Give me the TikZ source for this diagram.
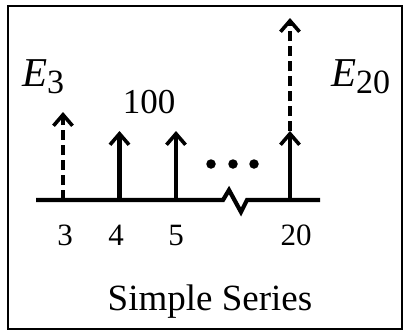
\documentclass[tikz,border=0pt]{standalone}
\usepackage{fontspec}
\setmainfont{Liberation Serif}
\usetikzlibrary{arrows.meta}
\begin{document}
\begin{tikzpicture}[x=1pt,y=-1pt,
  stem/.style={line width=4.2pt,-{Straight Barb[length=11pt,width=19pt,line width=3.6pt]}},
  dstem/.style={stem,dash pattern=on 10pt off 5pt},
  axis/.style={line width=4.2pt},
  lbl/.style={anchor=base,inner sep=0pt,font=\fontsize{31}{33}\selectfont},
  elbl/.style={anchor=base west,inner sep=0pt,font=\fontsize{41}{43}\selectfont},
  sub/.style={font=\fontsize{34}{36}\selectfont},
  dot/.style={circle,fill=black,inner sep=0pt,minimum size=9.5pt}]
\useasboundingbox (0,0) rectangle (404,330);
\draw[line width=2pt] (8,6) rectangle (402,328.5);
% axis
\coordinate (ax0) at (36,200);
\coordinate (ax1) at (320,200);
\coordinate (b0) at (223,200);
\coordinate (b1) at (229,190);
\coordinate (b2) at (241,212);
\coordinate (b3) at (247,200);
\draw[axis] (ax0) -- (b0) -- (b1) -- (b2) -- (b3) -- (ax1);
% stems
\coordinate (a3) at (63,200);   \coordinate (t3) at (63,112);
\coordinate (a4) at (119.5,200); \coordinate (t4) at (119.5,131);
\coordinate (a5) at (176,200);  \coordinate (t5) at (176,131);
\coordinate (a20) at (290,200); \coordinate (t20) at (290,131);
\coordinate (u20) at (290,18);
\draw[dstem] (a3) -- (t3);
\draw[stem] (a4) -- (t4);
\draw[stem] (a5) -- (t5);
\draw[stem] (a20) -- (t20);
\draw[dstem] (t20) -- (u20);
% dots
\node[dot] (d1) at (211,164) {};
\node[dot] (d2) at (233,164) {};
\node[dot] (d3) at (254,164) {};
% tick labels
\node[lbl] (l3) at (65,245) {3};
\node[lbl] (l4) at (116,245) {4};
\node[lbl] (l5) at (176,245) {5};
\node[lbl] (l20) at (296,245) {20};
% value labels
\node[anchor=base,inner sep=0pt,font=\fontsize{35}{37}\selectfont] (v100) at (149,113) {100};
\node[elbl] (e3) at (22,86) {\textit{E}\raisebox{-7pt}{\fontsize{34}{36}\selectfont 3}};
\node[elbl] (e20) at (331,86) {\textit{E}\raisebox{-7pt}{\fontsize{34}{36}\selectfont 20}};
% title
\node[anchor=base,inner sep=0pt,font=\fontsize{37}{40}\selectfont] (title) at (210,310) {Simple Series};
\end{tikzpicture}
\end{document}
